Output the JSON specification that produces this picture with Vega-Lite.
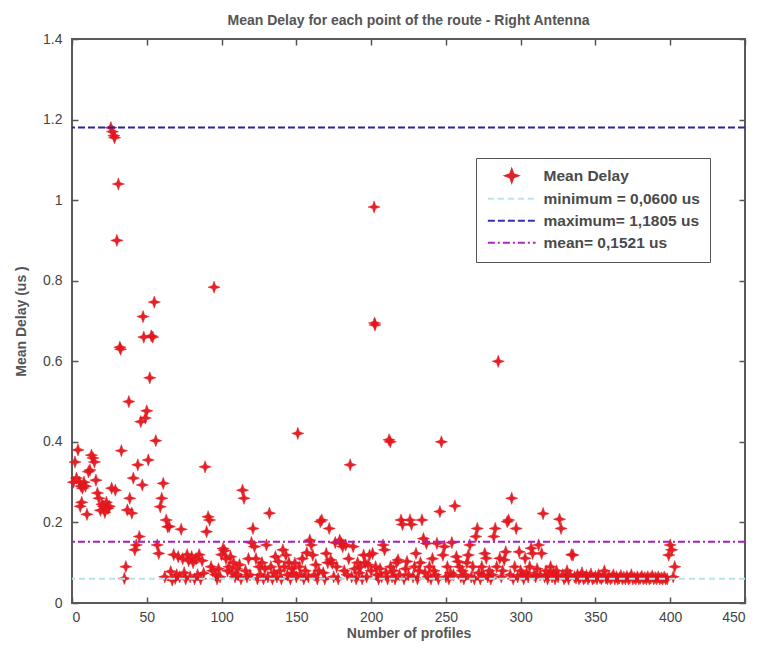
{
  "$schema": "https://vega.github.io/schema/vega-lite/v6.json",
  "width": 673,
  "height": 564,
  "autosize": {"type": "none"},
  "padding": {"left": 72, "top": 39, "right": 19, "bottom": 45},
  "background": "white",
  "title": {"text": "Mean Delay for each point of the route - Right Antenna", "font": "Liberation Sans", "fontSize": 14, "fontWeight": "bold", "color": "#555555", "anchor": "middle", "offset": 4},
  "config": {
    "view": {"stroke": "#5a5a5a", "strokeWidth": 2},
    "axis": {"grid": false, "domain": false, "tickColor": "#555555", "tickSize": -6, "tickWidth": 1.5, "labelFont": "Liberation Sans", "labelFontSize": 14, "labelColor": "#444444", "titleFont": "Liberation Sans", "titleFontSize": 14, "titleFontWeight": "bold", "titleColor": "#555555"}
  },
  "datasets": {
    "pts": [
      {"x":1,"y":0.30},{"x":2,"y":0.35},{"x":3,"y":0.31},{"x":4,"y":0.38},{"x":5,"y":0.30},{"x":6,"y":0.29},{"x":5.5,"y":0.24},{"x":6.5,"y":0.25},{"x":7,"y":0.285},{"x":8,"y":0.30},{"x":9,"y":0.29},{"x":10,"y":0.22},{"x":11,"y":0.326},{"x":12,"y":0.33},{"x":13,"y":0.367},{"x":14,"y":0.36},{"x":15,"y":0.35},{"x":16,"y":0.305},{"x":17,"y":0.273},{"x":18,"y":0.26},{"x":19,"y":0.23},{"x":20,"y":0.245},{"x":21,"y":0.24},{"x":22,"y":0.225},{"x":23,"y":0.25},{"x":24,"y":0.235},{"x":25,"y":0.24},{"x":26,"y":1.18},{"x":26.5,"y":0.285},{"x":27,"y":1.17},{"x":28,"y":1.16},{"x":28.5,"y":1.155},{"x":29,"y":0.28},{"x":30,"y":0.90},{"x":31,"y":1.04},{"x":32,"y":0.635},{"x":32.5,"y":0.63},{"x":33,"y":0.378},
      {"x":35,"y":0.061},{"x":36,"y":0.09},{"x":37,"y":0.231},{"x":38,"y":0.50},{"x":38.6,"y":0.26},{"x":40,"y":0.223},{"x":41,"y":0.31},{"x":42,"y":0.132},{"x":43,"y":0.144},{"x":44,"y":0.343},{"x":45,"y":0.165},{"x":46,"y":0.45},{"x":47,"y":0.293},{"x":47.5,"y":0.711},{"x":48,"y":0.66},{"x":49,"y":0.459},{"x":50,"y":0.477},{"x":51,"y":0.355},{"x":52,"y":0.559},{"x":53,"y":0.663},{"x":54,"y":0.66},{"x":55,"y":0.747},{"x":56,"y":0.403},{"x":57,"y":0.144},{"x":58,"y":0.123},{"x":59,"y":0.239},{"x":60,"y":0.26},{"x":61,"y":0.297},{"x":62,"y":0.065},{"x":63,"y":0.206},{"x":64,"y":0.189},{"x":65,"y":0.19},
      {"x":66,"y":0.078},{"x":67,"y":0.057},{"x":68,"y":0.12},{"x":69,"y":0.061},{"x":70,"y":0.07},{"x":71,"y":0.115},{"x":72,"y":0.065},{"x":73,"y":0.183},{"x":74,"y":0.11},{"x":75,"y":0.075},{"x":76,"y":0.06},{"x":77,"y":0.12},{"x":78,"y":0.105},{"x":79,"y":0.065},{"x":80,"y":0.115},{"x":81,"y":0.1},{"x":82,"y":0.06},{"x":83,"y":0.11},{"x":84,"y":0.07},{"x":85,"y":0.12},{"x":86,"y":0.06},{"x":87,"y":0.105},{"x":88,"y":0.074},{"x":89,"y":0.338},{"x":90,"y":0.177},{"x":91,"y":0.214},{"x":92,"y":0.206},{"x":93,"y":0.09},{"x":94,"y":0.08},{"x":95,"y":0.784},{"x":96,"y":0.07},{"x":97,"y":0.06},{"x":98,"y":0.085},{"x":99,"y":0.065},{"x":100,"y":0.12},{"x":101,"y":0.135},{"x":102,"y":0.13},{"x":103,"y":0.11},{"x":104,"y":0.08},{"x":105,"y":0.09},{"x":106,"y":0.115},{"x":107,"y":0.075},{"x":108,"y":0.1},{"x":109,"y":0.065},{"x":110,"y":0.085},{"x":111,"y":0.07},{"x":112,"y":0.095},{"x":113,"y":0.06},{"x":114,"y":0.28},{"x":115,"y":0.26},{"x":116,"y":0.08},{"x":117,"y":0.065},{"x":118,"y":0.11},{"x":119,"y":0.07},{"x":120,"y":0.15},{"x":121,"y":0.185},{"x":122,"y":0.14},{"x":123,"y":0.11},{"x":124,"y":0.06},{"x":125,"y":0.09},
      {"x":126,"y":0.07},{"x":127,"y":0.1},{"x":128,"y":0.06},{"x":129,"y":0.085},{"x":130,"y":0.144},{"x":131,"y":0.065},{"x":132,"y":0.223},{"x":133,"y":0.09},{"x":134,"y":0.06},{"x":135,"y":0.075},{"x":136,"y":0.115},{"x":137,"y":0.065},{"x":138,"y":0.103},{"x":139,"y":0.08},{"x":140,"y":0.06},{"x":141,"y":0.132},{"x":142,"y":0.09},{"x":143,"y":0.119},{"x":144,"y":0.07},{"x":145,"y":0.1},{"x":146,"y":0.06},{"x":147,"y":0.085},{"x":148,"y":0.075},{"x":149,"y":0.099},{"x":150,"y":0.065},{"x":151,"y":0.421},{"x":152,"y":0.09},{"x":153,"y":0.07},{"x":154,"y":0.11},{"x":155,"y":0.06},{"x":156,"y":0.08},{"x":157,"y":0.125},{"x":158,"y":0.065},{"x":159,"y":0.156},{"x":160,"y":0.144},{"x":161,"y":0.119},{"x":162,"y":0.07},{"x":163,"y":0.095},{"x":164,"y":0.06},{"x":165,"y":0.08},{"x":166,"y":0.202},{"x":167,"y":0.206},{"x":168,"y":0.075},{"x":169,"y":0.06},{"x":170,"y":0.123},{"x":171,"y":0.1},{"x":172,"y":0.185},{"x":173,"y":0.107},{"x":174,"y":0.099},{"x":175,"y":0.065},{"x":176,"y":0.15},{"x":177,"y":0.09},{"x":178,"y":0.06},{"x":179,"y":0.156},{"x":180,"y":0.148},{"x":181,"y":0.14},{"x":182,"y":0.08},{"x":183,"y":0.144},{"x":184,"y":0.07},{"x":185,"y":0.11},{"x":186,"y":0.343},{"x":187,"y":0.065},{"x":188,"y":0.14},{"x":189,"y":0.085},{"x":190,"y":0.06},{"x":191,"y":0.1},{"x":192,"y":0.075},{"x":193,"y":0.09},{"x":194,"y":0.06},{"x":195,"y":0.119},{"x":196,"y":0.1},{"x":197,"y":0.065},{"x":198,"y":0.095},{"x":199,"y":0.119},{"x":200,"y":0.08},{"x":201,"y":0.123},{"x":202,"y":0.983},{"x":202.3,"y":0.695},{"x":202.6,"y":0.69},
      {"x":203,"y":0.09},{"x":204,"y":0.07},{"x":205,"y":0.06},{"x":206,"y":0.085},{"x":207,"y":0.065},{"x":208,"y":0.144},{"x":209,"y":0.132},{"x":210,"y":0.075},{"x":211,"y":0.06},{"x":212,"y":0.405},{"x":212.8,"y":0.40},{"x":213,"y":0.09},{"x":214,"y":0.065},{"x":215,"y":0.08},{"x":216,"y":0.06},{"x":217,"y":0.1},{"x":218,"y":0.107},{"x":219,"y":0.07},{"x":220,"y":0.206},{"x":221,"y":0.195},{"x":222,"y":0.06},{"x":223,"y":0.085},{"x":224,"y":0.103},{"x":225,"y":0.07},{"x":226,"y":0.206},{"x":227,"y":0.195},{"x":228,"y":0.065},{"x":229,"y":0.09},{"x":230,"y":0.123},{"x":231,"y":0.06},{"x":232,"y":0.08},{"x":233,"y":0.1},{"x":234,"y":0.206},{"x":235,"y":0.16},{"x":236,"y":0.075},{"x":237,"y":0.148},{"x":238,"y":0.065},{"x":239,"y":0.09},{"x":240,"y":0.06},{"x":241,"y":0.11},{"x":242,"y":0.08},{"x":243,"y":0.07},{"x":244,"y":0.148},{"x":245,"y":0.06},{"x":246,"y":0.227},{"x":247,"y":0.40},{"x":248,"y":0.119},{"x":249,"y":0.14},{"x":250,"y":0.065},
      {"x":251,"y":0.09},{"x":252,"y":0.06},{"x":253,"y":0.075},{"x":254,"y":0.15},{"x":255,"y":0.07},{"x":256,"y":0.241},{"x":257,"y":0.115},{"x":258,"y":0.103},{"x":259,"y":0.09},{"x":260,"y":0.065},{"x":261,"y":0.08},{"x":262,"y":0.06},{"x":263,"y":0.07},{"x":264,"y":0.1},{"x":265,"y":0.119},{"x":266,"y":0.144},{"x":267,"y":0.065},{"x":268,"y":0.09},{"x":269,"y":0.06},{"x":270,"y":0.165},{"x":271,"y":0.185},{"x":272,"y":0.075},{"x":273,"y":0.06},{"x":274,"y":0.09},{"x":275,"y":0.07},{"x":276,"y":0.123},{"x":277,"y":0.111},{"x":278,"y":0.065},{"x":279,"y":0.08},{"x":280,"y":0.06},{"x":281,"y":0.07},{"x":282,"y":0.165},{"x":283,"y":0.185},{"x":284,"y":0.09},{"x":285,"y":0.60},{"x":286,"y":0.111},{"x":287,"y":0.065},{"x":288,"y":0.08},{"x":289,"y":0.107},{"x":290,"y":0.127},{"x":291,"y":0.202},{"x":292,"y":0.206},{"x":293,"y":0.07},{"x":294,"y":0.26},{"x":295,"y":0.06},{"x":296,"y":0.09},{"x":297,"y":0.185},{"x":298,"y":0.065},{"x":299,"y":0.127},{"x":300,"y":0.08},
      {"x":301,"y":0.07},{"x":302,"y":0.06},{"x":303,"y":0.111},{"x":304,"y":0.075},{"x":305,"y":0.065},{"x":306,"y":0.09},{"x":307,"y":0.136},{"x":308,"y":0.123},{"x":309,"y":0.07},{"x":310,"y":0.065},{"x":311,"y":0.085},{"x":312,"y":0.144},{"x":313,"y":0.07},{"x":314,"y":0.123},{"x":315,"y":0.222},{"x":316,"y":0.065},{"x":317,"y":0.08},{"x":318,"y":0.06},{"x":319,"y":0.07},{"x":320,"y":0.09},{"x":321,"y":0.065},{"x":322,"y":0.075},{"x":323,"y":0.06},{"x":324,"y":0.08},{"x":325,"y":0.065},{"x":326,"y":0.208},{"x":327,"y":0.185},{"x":328,"y":0.07},{"x":329,"y":0.06},{"x":330,"y":0.065},{"x":331,"y":0.08},{"x":332,"y":0.06},{"x":333,"y":0.07},{"x":334,"y":0.12},{"x":335,"y":0.119},{"x":336,"y":0.065},
      {"x":337,"y":0.062},{"x":338,"y":0.07},{"x":339,"y":0.06},{"x":340,"y":0.065},{"x":341,"y":0.075},{"x":342,"y":0.06},{"x":343,"y":0.063},{"x":344,"y":0.068},{"x":345,"y":0.06},{"x":346,"y":0.065},{"x":347,"y":0.072},{"x":348,"y":0.06},{"x":349,"y":0.062},{"x":350,"y":0.066},{"x":351,"y":0.06},{"x":352,"y":0.07},{"x":353,"y":0.063},{"x":354,"y":0.06},{"x":355,"y":0.065},{"x":356,"y":0.08},{"x":357,"y":0.062},{"x":358,"y":0.06},{"x":359,"y":0.066},{"x":360,"y":0.06},{"x":361,"y":0.063},{"x":362,"y":0.07},{"x":363,"y":0.06},{"x":364,"y":0.065},{"x":365,"y":0.06},{"x":366,"y":0.062},{"x":367,"y":0.068},{"x":368,"y":0.06},{"x":369,"y":0.064},{"x":370,"y":0.06},{"x":371,"y":0.066},{"x":372,"y":0.06},{"x":373,"y":0.062},{"x":374,"y":0.07},{"x":375,"y":0.06},{"x":376,"y":0.063},{"x":377,"y":0.06},{"x":378,"y":0.065},{"x":379,"y":0.06},{"x":380,"y":0.062},{"x":381,"y":0.066},{"x":382,"y":0.06},{"x":383,"y":0.063},{"x":384,"y":0.06},{"x":385,"y":0.065},{"x":386,"y":0.06},{"x":387,"y":0.062},{"x":388,"y":0.067},{"x":389,"y":0.06},{"x":390,"y":0.063},{"x":391,"y":0.06},{"x":392,"y":0.065},{"x":393,"y":0.06},{"x":394,"y":0.062},{"x":395,"y":0.06},{"x":396,"y":0.064},{"x":397,"y":0.06},{"x":398,"y":0.06},{"x":399,"y":0.119},{"x":400,"y":0.144},{"x":401,"y":0.132},{"x":402,"y":0.065},{"x":403,"y":0.09}
    ],
    "lines": [
      {"s": "minimum = 0,0600 us", "y": 0.06},
      {"s": "maximum= 1,1805 us", "y": 1.1805},
      {"s": "mean= 0,1521 us", "y": 0.1521}
    ]
  },
  "resolve": {"axis": {"x": "independent", "y": "independent"}},
  "layer": [
    {
      "data": {"name": "pts"},
      "transform": [{"calculate": "'Mean Delay'", "as": "s"}],
      "mark": {"type": "point", "filled": true, "opacity": 0.95, "strokeWidth": 0.5, "size": 150},
      "encoding": {
        "x": {"field": "x", "type": "quantitative", "scale": {"domain": [0, 450], "nice": false}, "axis": {"values": [0, 50, 100, 150, 200, 250, 300, 350, 400, 450], "labelPadding": 13, "title": "Number of profiles", "titlePadding": 2}},
        "y": {"field": "y", "type": "quantitative", "scale": {"domain": [0, 1.4], "nice": false}, "axis": {"values": [0, 0.2, 0.4, 0.6, 0.8, 1, 1.2, 1.4], "format": "~g", "labelPadding": 16, "title": "Mean Delay (us )", "titlePadding": 14}},
        "color": {"field": "s", "type": "nominal", "scale": {"domain": ["Mean Delay", "minimum = 0,0600 us", "maximum= 1,1805 us", "mean= 0,1521 us"], "range": ["#e3161d", "#b5e4ee", "#2626a8", "#a81cc0"]}, "legend": {"title": null, "orient": "none", "legendX": 404, "legendY": 119, "fillColor": "white", "strokeColor": "#555555", "padding": 10, "labelFont": "Liberation Sans", "labelFontSize": 15.5, "labelFontWeight": "bold", "labelColor": "#4a4a4a", "symbolSize": 150, "symbolOffset": 18, "labelOffset": 24, "rowPadding": 5, "symbolStrokeWidth": 2}},
        "stroke": {"field": "s", "type": "nominal", "scale": {"domain": ["Mean Delay", "minimum = 0,0600 us", "maximum= 1,1805 us", "mean= 0,1521 us"], "range": ["#e3161d", "#b5e4ee", "#2626a8", "#a81cc0"]}, "legend": {"title": null, "orient": "none", "legendX": 404, "legendY": 119}},
        "shape": {"field": "s", "type": "nominal", "scale": {"domain": ["Mean Delay", "minimum = 0,0600 us", "maximum= 1,1805 us", "mean= 0,1521 us"], "range": ["M0,-1L0.26,-0.26L1,0L0.26,0.26L0,1L-0.26,0.26L-1,0L-0.26,-0.26Z", "M-3.9,0L3.9,0", "M-3.9,0L3.9,0", "M-3.9,0L3.9,0"]}, "legend": {"title": null, "orient": "none", "legendX": 404, "legendY": 119}}
      }
    },
    {
      "data": {"name": "lines"},
      "mark": {"type": "rule", "strokeWidth": 2},
      "encoding": {
        "y": {"field": "y", "type": "quantitative", "axis": {"orient": "right", "values": [0, 0.2, 0.4, 0.6, 0.8, 1, 1.2, 1.4], "labels": false, "title": null}},
        "color": {"field": "s", "type": "nominal"},
        "strokeDash": {"field": "s", "type": "nominal", "scale": {"domain": ["Mean Delay", "minimum = 0,0600 us", "maximum= 1,1805 us", "mean= 0,1521 us"], "range": [[1, 0], [6, 4], [7, 3], [7, 3, 2, 3]]}, "legend": {"title": null, "orient": "none", "legendX": 404, "legendY": 119}}
      }
    },
    {
      "data": {"name": "pts"},
      "mark": {"type": "point", "opacity": 0},
      "encoding": {
        "x": {"field": "x", "type": "quantitative", "axis": {"orient": "top", "values": [0, 50, 100, 150, 200, 250, 300, 350, 400, 450], "labels": false, "title": null}}
      }
    }
  ]
}
